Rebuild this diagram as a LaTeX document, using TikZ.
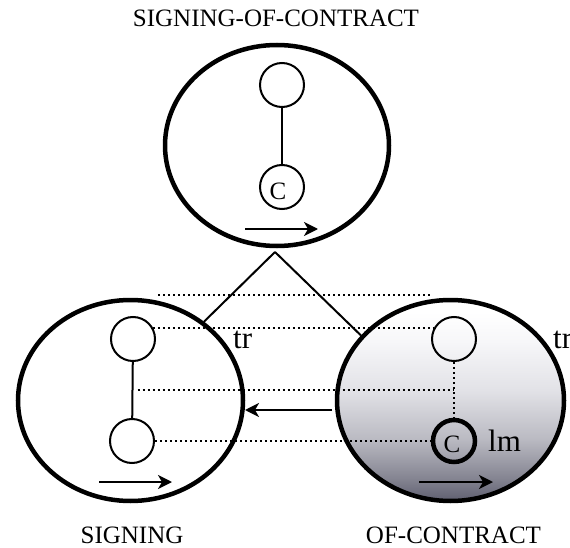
\documentclass[tikz,border=0pt]{standalone}
\usepackage{fontspec}
\setmainfont{Liberation Serif}
\usetikzlibrary{shapes.geometric,arrows.meta,calc}
\pgfdeclareverticalshading{ofcshade}{100bp}{%
  color(0bp)=(rgb,255:red,95;green,95;blue,112);
  color(25bp)=(rgb,255:red,95;green,95;blue,112);
  color(30.6bp)=(rgb,255:red,132;green,132;blue,145);
  color(40.4bp)=(rgb,255:red,186;green,186;blue,194);
  color(52.6bp)=(rgb,255:red,226;green,226;blue,231);
  color(64.8bp)=(rgb,255:red,247;green,247;blue,249);
  color(72bp)=(rgb,255:red,255;green,255;blue,255);
  color(100bp)=(rgb,255:red,255;green,255;blue,255)}
\begin{document}
\begin{tikzpicture}[x=1pt,y=-1pt,
  bigell/.style={ellipse,draw,line width=4.5pt,inner sep=0pt},
  smallc/.style={circle,draw,line width=2pt,minimum size=44pt,inner sep=0pt},
  thickc/.style={circle,draw,line width=4.5pt,minimum size=42pt,inner sep=0pt},
  link/.style={line width=2pt},
  dotl/.style={line width=2pt,dash pattern=on 2pt off 3pt},
  arr/.style={line width=2pt,-{Stealth[length=14pt,width=14pt,inset=4pt]}},
  lab/.style={font=\fontsize{25}{30}\selectfont,inner sep=0pt},
  biglab/.style={font=\fontsize{31}{36}\selectfont,inner sep=0pt}]
\useasboundingbox (0,0) rectangle (570,548);
% ellipses
\node[bigell,minimum width=224pt,minimum height=201pt] (E0) at (277,145.5) {};
\node[bigell,minimum width=225pt,minimum height=201pt] (L) at (130.5,400.5) {};
\node[bigell,minimum width=227pt,minimum height=201pt,shading=ofcshade] (R) at (450.5,400.5) {};
% inner circles
\node[smallc] (t1) at (282,85) {};
\node[smallc] (t2) at (282,187) {};
\node[lab] at (278,191) {C};
\node[smallc] (l1) at (133,339) {};
\node[smallc] (l2) at (132,441) {};
\node[smallc] (r1) at (454,339) {};
\node[thickc] (r2) at (454,441) {};
\node[lab] at (452,444) {C};
\draw[link] (t1) -- (t2);
\draw[link] (l1) -- (l2);
\draw[dotl] (r1) -- (r2);
% triangle
\coordinate (apex) at (275,252);
\draw[link] (apex) -- (L.47);
\draw[link] (apex) -- (R.144);
% dotted correspondences
\coordinate (d1) at (158,295);
\coordinate (d2) at (432,295);
\draw[dotl] (d1) -- (d2);
\draw[dotl] (l1.30) -- (r1.150);
\draw[dotl] ($($(l1)!0.5!(l2)$)+(5,0)$) -- ($(r1)!0.5!(r2)$);
\draw[dotl] (l2.east) -- (r2.west);
% arrows
\coordinate (a1) at (332,410);
\coordinate (a2) at (245,410);
\draw[arr] (a1) -- (a2);
\coordinate (ta1) at (245,229);
\coordinate (ta2) at (318,229);
\draw[arr] (ta1) -- (ta2);
\coordinate (la1) at (99,482);
\coordinate (la2) at (172,482);
\draw[arr] (la1) -- (la2);
\coordinate (ra1) at (419,482);
\coordinate (ra2) at (493,482);
\draw[arr] (ra1) -- (ra2);
% labels
\node[lab,anchor=base] (title) at (276,27) {SIGNING-OF-CONTRACT};
\node[lab,anchor=base] (sig) at (132,543) {SIGNING};
\node[lab,anchor=base] (ofc) at (453.5,543) {OF-CONTRACT};
\node[biglab,anchor=base west] (trl) at (233,348) {tr};
\node[biglab,anchor=base west] (trr) at (553,348) {tr};
\node[biglab,anchor=base west] (lm) at (488,451) {lm};
\end{tikzpicture}
\end{document}
